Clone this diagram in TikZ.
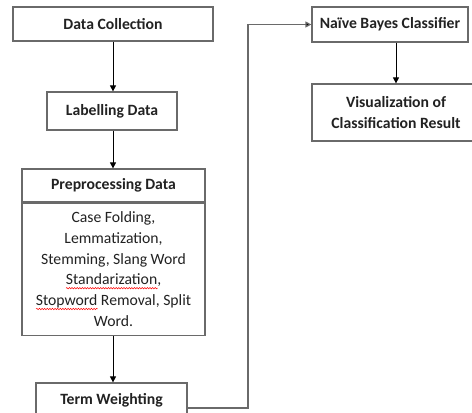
\documentclass[tikz,border=0pt]{standalone}
\usepackage{fontspec}
\setmainfont{Carlito}
\usetikzlibrary{arrows.meta,decorations.pathmorphing}
% red spell-check squiggle under a word
\newsavebox\wavebox
\newcommand\spellwave[1]{\sbox\wavebox{#1}\leavevmode\rlap{\tikz[baseline=0pt]\draw[red, line width=0.5pt, decorate, decoration={snake, amplitude=0.7pt, segment length=2.6pt}] (0pt,-3.2pt) -- (\wd\wavebox,-3.2pt);}\usebox\wavebox}
\definecolor{boxline}{HTML}{6A6A6A}
\definecolor{inktext}{HTML}{222222}
\tikzset{
  stepbox/.style={draw=boxline, line width=1.2pt, fill=white, inner sep=2pt,
    text=inktext, font=\fontsize{15.7}{20.8}\selectfont\bfseries, align=center},
  bodybox/.style={stepbox, font=\fontsize{15.7}{20.8}\selectfont},
  flow/.style={draw=black, line width=0.8pt, -{Triangle[length=6pt,width=6pt]}},
  link/.style={draw=boxline, line width=1.2pt, -{Triangle[length=6pt,width=6pt,fill=black]}}
}
\begin{document}
\begin{tikzpicture}[x=1pt,y=-1pt]
\useasboundingbox (0,0) rectangle (472,413);

% left column
\node[stepbox, minimum width=200pt, minimum height=34pt] (dc) at (113,24) {Data Collection};
\node[stepbox, minimum width=130pt, minimum height=38pt] (lab) at (112,111) {Labelling Data};
\node[stepbox, minimum width=183pt, minimum height=33pt] (pre) at (113.5,185.5) {Preprocessing Data};
\node[bodybox, minimum width=183pt, minimum height=132pt, anchor=north] (body) at (pre.south)
  {Case Folding,\\Lemmatization,\\Stemming, Slang Word\\\spellwave{Standarization},\\\spellwave{Stopword} Removal, Split\\Word.};
\node[stepbox, minimum width=151pt, minimum height=50pt, text depth=0pt] (tw) at (111.5,408) {\raisebox{19pt}{Term Weighting}};

% right column
\node[stepbox, minimum width=156pt, minimum height=35pt] (nb) at (390,24.5) {Naïve Bayes Classifier};
\node[stepbox, minimum width=168pt, minimum height=57pt] (viz) at (396,112.5) {Visualization of\\Classification Result};

% arrows
\draw[flow] (dc.south) -- (dc.south |- lab.north);
\draw[flow] (lab.south -| dc.south) -- (dc.south |- pre.north);
\draw[flow] (body.south -| dc.south) -- (dc.south |- tw.north);
\draw[flow] (viz.north |- nb.south) -- (viz.north);

\coordinate (turn) at (248,24.5);
\draw[link] (tw.east) -| (turn) -- (nb.west);
\end{tikzpicture}
\end{document}
